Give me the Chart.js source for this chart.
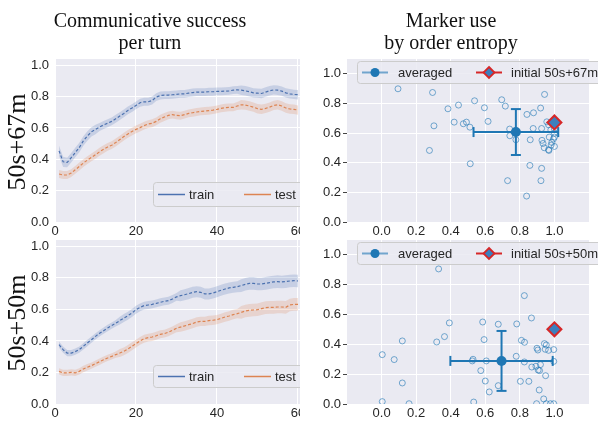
<!DOCTYPE html>
<html><head><meta charset="utf-8">
<script src="https://cdn.jsdelivr.net/npm/chart.js@4.4.0/dist/chart.umd.min.js"></script>
<style>
html,body{margin:0;padding:0;background:#fff;width:598px;height:421px;overflow:hidden;position:relative;}
.box{position:absolute;overflow:hidden;}
.title{position:absolute;font-family:"Liberation Serif","Times New Roman",serif;font-size:20px;color:#111;text-align:center;line-height:22px;}
.row{position:absolute;width:120px;height:30px;line-height:30px;text-align:center;font-family:"Liberation Serif","Times New Roman",serif;font-size:26px;color:#111;transform:rotate(-90deg);white-space:nowrap;}
</style></head><body>
<div class="box" style="left:0;top:45px;width:300px;height:195px"><canvas id="c1" width="320" height="195"></canvas></div>
<div class="box" style="left:0;top:226px;width:300px;height:195px"><canvas id="c3" width="320" height="195"></canvas></div>
<div class="box" style="left:300px;top:45px;width:298px;height:195px"><canvas id="c2" width="298" height="195"></canvas></div>
<div class="box" style="left:300px;top:226px;width:298px;height:195px"><canvas id="c4" width="298" height="195"></canvas></div>
<div class="title" style="left:0;top:9px;width:300px">Communicative success<br>per turn</div>
<div class="title" style="left:302px;top:9px;width:298px">Marker use<br>by order entropy</div>
<div class="row" style="left:-43px;top:127px">50s+67m</div>
<div class="row" style="left:-43px;top:308px">50s+50m</div>
<script>
// ---------- data ----------
const turns = [1,2,3,4,5,6,7,8,9,10,11,12,13,14,15,16,17,18,19,20,21,22,23,24,25,26,27,28,29,30,31,32,33,34,35,36,37,38,39,40,41,42,43,44,45,46,47,48,49,50,51,52,53,54,55,56,57,58,59,60];
const turnTicks = [0,20,40,60];
const rateTicks = [0,0.2,0.4,0.6,0.8,1.0];
const entropyTicks = [0,0.2,0.4,0.6,0.8,1.0];

const train67 = [0.454,0.384,0.38,0.41,0.443,0.475,0.517,0.549,0.575,0.59,0.606,0.619,0.63,0.642,0.659,0.676,0.693,0.712,0.727,0.744,0.761,0.767,0.767,0.775,0.797,0.807,0.81,0.81,0.812,0.814,0.818,0.818,0.822,0.826,0.829,0.829,0.829,0.831,0.831,0.833,0.833,0.835,0.837,0.841,0.843,0.841,0.837,0.831,0.824,0.822,0.82,0.829,0.837,0.843,0.841,0.835,0.824,0.818,0.814,0.812];
const test67 = [0.306,0.30,0.30,0.312,0.333,0.354,0.376,0.395,0.412,0.429,0.448,0.464,0.479,0.49,0.507,0.526,0.545,0.562,0.577,0.591,0.602,0.615,0.625,0.63,0.642,0.659,0.67,0.68,0.685,0.68,0.678,0.685,0.693,0.697,0.702,0.706,0.708,0.71,0.714,0.719,0.725,0.729,0.731,0.731,0.74,0.748,0.746,0.74,0.733,0.723,0.719,0.725,0.733,0.744,0.748,0.74,0.727,0.721,0.719,0.714];
const train67Ci = [0.033,0.033,0.03,0.03,0.03,0.03,0.03,0.03,0.03,0.03,0.025,0.025,0.025,0.025,0.025,0.025,0.025,0.025,0.025,0.025,0.025,0.025,0.025,0.025,0.025,0.025,0.025,0.025,0.025,0.025,0.025,0.025,0.025,0.025,0.025,0.025,0.025,0.025,0.025,0.025,0.025,0.025,0.025,0.025,0.025,0.03,0.03,0.03,0.03,0.03,0.03,0.03,0.03,0.03,0.03,0.03,0.03,0.03,0.03,0.03];
const test67Ci = [0.025,0.025,0.025,0.025,0.025,0.025,0.025,0.025,0.025,0.025,0.025,0.025,0.025,0.025,0.025,0.025,0.025,0.025,0.025,0.025,0.025,0.025,0.025,0.025,0.025,0.025,0.025,0.025,0.025,0.025,0.025,0.025,0.025,0.025,0.025,0.025,0.025,0.025,0.025,0.025,0.025,0.025,0.025,0.025,0.025,0.03,0.03,0.03,0.03,0.03,0.03,0.03,0.03,0.03,0.03,0.03,0.03,0.03,0.03,0.03];

const train50 = [0.376,0.345,0.323,0.323,0.332,0.345,0.366,0.387,0.408,0.429,0.448,0.465,0.482,0.497,0.512,0.529,0.545,0.56,0.577,0.598,0.613,0.624,0.628,0.632,0.638,0.645,0.651,0.655,0.666,0.679,0.687,0.693,0.70,0.708,0.712,0.708,0.698,0.698,0.704,0.712,0.721,0.729,0.736,0.74,0.744,0.751,0.759,0.765,0.765,0.761,0.761,0.765,0.77,0.774,0.776,0.774,0.776,0.78,0.782,0.78];
const test50 = [0.207,0.197,0.197,0.201,0.197,0.207,0.222,0.233,0.243,0.256,0.268,0.281,0.292,0.302,0.313,0.323,0.334,0.349,0.366,0.383,0.40,0.414,0.421,0.425,0.433,0.442,0.446,0.455,0.467,0.48,0.488,0.495,0.503,0.51,0.52,0.524,0.524,0.529,0.531,0.535,0.543,0.552,0.558,0.567,0.573,0.581,0.59,0.594,0.596,0.598,0.605,0.611,0.613,0.613,0.615,0.615,0.613,0.628,0.632,0.632];
const train50Ci = [0.02,0.02,0.02,0.02,0.02,0.02,0.02,0.02,0.02,0.02,0.02,0.02,0.02,0.02,0.02,0.025,0.025,0.025,0.025,0.025,0.025,0.025,0.025,0.025,0.025,0.025,0.025,0.025,0.025,0.025,0.035,0.035,0.035,0.035,0.035,0.035,0.035,0.035,0.035,0.035,0.035,0.035,0.035,0.035,0.035,0.04,0.04,0.04,0.04,0.04,0.04,0.04,0.04,0.04,0.04,0.04,0.04,0.04,0.04,0.04];
const test50Ci = [0.02,0.02,0.02,0.02,0.02,0.02,0.02,0.02,0.02,0.02,0.02,0.02,0.02,0.02,0.02,0.025,0.025,0.025,0.025,0.025,0.025,0.025,0.025,0.025,0.025,0.025,0.025,0.025,0.025,0.025,0.03,0.03,0.03,0.03,0.03,0.03,0.03,0.03,0.03,0.03,0.03,0.03,0.03,0.03,0.03,0.04,0.04,0.04,0.04,0.04,0.04,0.04,0.04,0.04,0.04,0.04,0.04,0.04,0.04,0.04];

const entropy67 = [0.095,0.295,0.384,0.445,0.538,0.595,0.695,0.716,0.943,0.920,0.879,0.841,0.303,0.420,0.473,0.491,0.511,0.616,0.277,0.513,0.741,0.742,0.777,0.860,0.877,0.926,0.956,0.966,0.979,1.0,1.0,1.0,0.994,0.970,0.928,0.934,0.941,0.966,0.968,0.981,1.0,0.985,0.858,0.926,0.729,0.922,0.839];
const marker67 = [0.899,0.874,0.764,0.789,0.818,0.771,0.825,0.782,0.861,0.769,0.737,0.726,0.649,0.674,0.663,0.674,0.640,0.679,0.483,0.393,0.627,0.582,0.555,0.555,0.631,0.631,0.676,0.656,0.622,0.627,0.600,0.573,0.560,0.573,0.551,0.530,0.501,0.488,0.483,0.519,0.510,0.537,0.382,0.362,0.279,0.279,0.175];
const avg67 = [0.777, 0.607];
const avgErr67 = [0.245, 0.155];
const init67 = [1.0, 0.672];

const entropy50 = [0.330,0.826,0.867,0.392,0.585,0.675,0.782,0.364,0.319,0.120,0.593,0.809,0.827,0.942,0.953,0.004,0.073,0.899,0.904,0.947,0.966,0.996,0.529,0.525,0.606,0.779,0.826,0.996,0.869,0.893,0.919,0.914,0.906,0.949,0.574,0.120,0.600,0.803,0.852,0.675,0.912,0.623,0.938,0.004,0.159,0.533,0.897,0.953,0.977,0.996];
const marker50 = [0.906,0.727,0.577,0.544,0.550,0.535,0.537,0.452,0.416,0.423,0.432,0.427,0.414,0.405,0.396,0.331,0.298,0.374,0.362,0.367,0.360,0.365,0.300,0.289,0.289,0.320,0.282,0.286,0.248,0.253,0.264,0.224,0.228,0.190,0.224,0.141,0.154,0.152,0.152,0.123,0.094,0.081,0.034,0.016,0.002,0.013,0.002,0.002,0.002,0.002];
const avg50 = [0.694, 0.289];
const avgErr50 = [0.296, 0.201];
const init50 = [1.0, 0.501];

// ---------- styling ----------
const FONT = "'Liberation Sans', Arial, sans-serif";
const TXT = '#262626';
const BLUE = '#4C72B0', ORANGE = '#DD8452', TAB = '#1f77b4', RED = '#d62728';

const bgPlugin = {id:'bg', beforeDraw(c){const a=c.chartArea,ctx=c.ctx;ctx.save();ctx.fillStyle='#EAEAF2';ctx.fillRect(a.left,a.top,a.right-a.left,a.bottom-a.top);ctx.restore();}};
const legendPlugin = {id:'boxLegend', afterDraw(chart, args, o){
  if(!o || !o.items) return;
  const ctx = chart.ctx; ctx.save();
  ctx.beginPath(); ctx.roundRect(o.x+0.5, o.y+0.5, o.w, o.h, 3);
  ctx.fillStyle='rgba(234,234,242,0.85)'; ctx.fill();
  ctx.strokeStyle='#cccccc'; ctx.lineWidth=1; ctx.stroke();
  const cy = o.y + o.h/2 + 0.5;
  o.items.forEach(it=>{
    ctx.setLineDash([]);
    ctx.beginPath(); ctx.moveTo(it.x, cy); ctx.lineTo(it.x+it.len, cy);
    ctx.strokeStyle=it.color; ctx.lineWidth=it.lw; ctx.stroke();
    const mx = it.x + it.len/2;
    if(it.marker==='circle'){ctx.beginPath();ctx.arc(mx,cy,4.5,0,Math.PI*2);ctx.fillStyle=it.fill;ctx.fill();}
    if(it.marker==='diamond'){const r=5.5;ctx.beginPath();ctx.moveTo(mx,cy-r);ctx.lineTo(mx+r,cy);ctx.lineTo(mx,cy+r);ctx.lineTo(mx-r,cy);ctx.closePath();ctx.fillStyle=it.fill;ctx.fill();ctx.strokeStyle=it.edge;ctx.lineWidth=1.8;ctx.stroke();}
    ctx.fillStyle=TXT; ctx.font='13px '+FONT; ctx.textBaseline='middle'; ctx.textAlign='left';
    ctx.fillText(it.label, it.x+it.tx, cy+0.5);
  });
  ctx.restore();
}};

function fixedTicks(arr){return s=>{s.ticks = arr.map(v=>({value:v}));};}

function lineChart(id, tr, trCi, te, teCi, xAxisH, leg){
  const pts = (vals, ci, sign) => turns.map((t,i)=>({x:t, y: vals[i] + sign*ci[i]}));
  new Chart(document.getElementById(id), {
    type:'line',
    data:{datasets:[
      {data:pts(tr,trCi,1), borderWidth:0, pointRadius:0, fill:false},
      {data:pts(tr,trCi,-1), borderWidth:0, pointRadius:0, fill:'-1', backgroundColor:'rgba(76,114,176,0.22)'},
      {data:pts(te,teCi,1), borderWidth:0, pointRadius:0, fill:false},
      {data:pts(te,teCi,-1), borderWidth:0, pointRadius:0, fill:'-1', backgroundColor:'rgba(221,132,82,0.22)'},
      {data:pts(tr,trCi,0), borderColor:BLUE, borderWidth:1.2, borderDash:[3,2], pointRadius:0, fill:false},
      {data:pts(te,teCi,0), borderColor:ORANGE, borderWidth:1.2, borderDash:[3,2], pointRadius:0, fill:false}
    ]},
    options:{
      responsive:false, animation:false, events:[],
      layout:{padding:{top:14,right:20,left:0,bottom:0}},
      elements:{line:{tension:0}},
      plugins:{legend:{display:false}, tooltip:{enabled:false}, boxLegend:leg},
      scales:{
        x:{type:'linear', min:0, max:60.5, afterBuildTicks:fixedTicks(turnTicks),
           afterFit:s=>{s.height=xAxisH;},
           grid:{color:'#ffffff', lineWidth:1, drawTicks:false}, border:{display:false},
           ticks:{color:TXT, font:{family:FONT,size:13}, padding:2, maxRotation:0, callback:v=>String(v)}},
        y:{min:0, max:1.04, afterBuildTicks:fixedTicks(rateTicks),
           afterFit:s=>{s.width=55;},
           grid:{color:'#ffffff', lineWidth:1, drawTicks:false}, border:{display:false},
           ticks:{color:TXT, font:{family:FONT,size:13}, padding:6, callback:v=>v.toFixed(1)}}
      }
    },
    plugins:[bgPlugin, legendPlugin]
  });
}

function scatterChart(id, xs, ys, avg, err, init, xAxisH, leg){
  new Chart(document.getElementById(id), {
    type:'scatter',
    data:{datasets:[
      {data:[{x:init[0], y:init[1]}], pointStyle:'rectRot', pointRadius:7, pointBackgroundColor:'#3b7fbe', pointBorderColor:RED, pointBorderWidth:2},
      {data:[{x:avg[0], y:avg[1]}], pointRadius:5, pointBackgroundColor:TAB, pointBorderColor:TAB, pointBorderWidth:0},
      {data:[{x:avg[0]-err[0], y:avg[1]},{x:avg[0]+err[0], y:avg[1]}], showLine:true, borderColor:TAB, borderWidth:2,
       pointStyle:'line', pointRotation:90, pointRadius:5, pointBorderColor:TAB, pointBorderWidth:2},
      {data:[{x:avg[0], y:avg[1]-err[1]},{x:avg[0], y:avg[1]+err[1]}], showLine:true, borderColor:TAB, borderWidth:2,
       pointStyle:'line', pointRotation:0, pointRadius:5, pointBorderColor:TAB, pointBorderWidth:2},
      {data:xs.map((x,i)=>({x:x, y:ys[i]})), pointRadius:3, pointBackgroundColor:'rgba(0,0,0,0)', pointBorderColor:'rgba(31,119,180,0.6)', pointBorderWidth:1, clip:0}
    ]},
    options:{
      responsive:false, animation:false, events:[],
      layout:{padding:{top:14,right:5,left:0,bottom:0}},
      plugins:{legend:{display:false}, tooltip:{enabled:false}, boxLegend:leg},
      scales:{
        x:{type:'linear', min:-0.2, max:1.2, afterBuildTicks:fixedTicks(entropyTicks),
           afterFit:s=>{s.height=xAxisH;},
           grid:{color:'#ffffff', lineWidth:1, drawTicks:false}, border:{display:false},
           ticks:{color:TXT, font:{family:FONT,size:13}, padding:2, maxRotation:0, callback:v=>v.toFixed(1)}},
        y:{min:0, max:1.1, afterBuildTicks:fixedTicks(rateTicks),
           afterFit:s=>{s.width=47;},
           grid:{color:'#ffffff', lineWidth:1, drawTicks:true, tickLength:4, tickColor:'#444444', tickWidth:1}, border:{display:false},
           ticks:{color:TXT, font:{family:FONT,size:13}, padding:2, callback:v=>v.toFixed(1)}}
      }
    },
    plugins:[bgPlugin, legendPlugin]
  });
}

const lineLegend = (y,h) => ({x:153, y:y, w:170, h:h, items:[
  {x:158, len:27, tx:31, color:BLUE, lw:1.5, label:'train'},
  {x:244, len:27, tx:31, color:ORANGE, lw:1.5, label:'test'}]});
const scatLegend = (y,h,name) => ({x:57, y:y, w:260, h:h, items:[
  {x:62, len:26, tx:36, color:'rgba(31,119,180,0.6)', lw:2, marker:'circle', fill:TAB, label:'averaged'},
  {x:176, len:26, tx:35, color:RED, lw:2, marker:'diamond', fill:'#3b7fbe', edge:RED, label:name}]});

lineChart('c1', train67, train67Ci, test67, test67Ci, 18, lineLegend(137, 24));
lineChart('c3', train50, train50Ci, test50, test50Ci, 17, lineLegend(139, 22));
scatterChart('c2', entropy67, marker67, avg67, avgErr67, init67, 18, scatLegend(16, 22, 'initial 50s+67m'));
scatterChart('c4', entropy50, marker50, avg50, avgErr50, init50, 17, scatLegend(16, 22, 'initial 50s+50m'));
</script>
</body></html>
